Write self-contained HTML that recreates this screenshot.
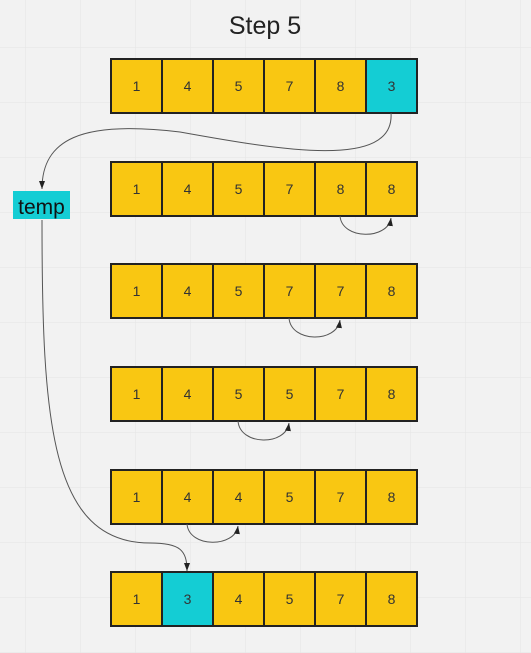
<!DOCTYPE html>
<html><head><style>
body{margin:0;background:#f2f2f2;}
svg{display:block}
</style></head><body>
<svg width="531" height="653" xmlns="http://www.w3.org/2000/svg" font-family="Liberation Sans, sans-serif">
<defs>
<pattern id="g" width="55" height="55" patternUnits="userSpaceOnUse" x="25" y="47">
<path d="M0 0V55M0 0H55" stroke="#e4e4e4" stroke-width="1" fill="none"/>
</pattern>
<marker id="a" markerWidth="9" markerHeight="8" refX="8" refY="4" orient="auto" markerUnits="userSpaceOnUse">
<path d="M0 1L8 4L0 7Z" fill="#222"/>
</marker>
</defs>
<rect width="531" height="653" fill="url(#g)"/>
<text x="265" y="34" font-size="25" text-anchor="middle" fill="#222">Step 5</text>

<g stroke="#222" stroke-width="2" fill="#f9c712">
<rect x="111" y="59" width="51" height="54"/><rect x="162" y="59" width="51" height="54"/><rect x="213" y="59" width="51" height="54"/><rect x="264" y="59" width="51" height="54"/><rect x="315" y="59" width="51" height="54"/><rect x="366" y="59" width="51" height="54" fill="#14cdd4"/>
<rect x="111" y="162" width="51" height="54"/><rect x="162" y="162" width="51" height="54"/><rect x="213" y="162" width="51" height="54"/><rect x="264" y="162" width="51" height="54"/><rect x="315" y="162" width="51" height="54"/><rect x="366" y="162" width="51" height="54"/>
<rect x="111" y="264" width="51" height="54"/><rect x="162" y="264" width="51" height="54"/><rect x="213" y="264" width="51" height="54"/><rect x="264" y="264" width="51" height="54"/><rect x="315" y="264" width="51" height="54"/><rect x="366" y="264" width="51" height="54"/>
<rect x="111" y="367" width="51" height="54"/><rect x="162" y="367" width="51" height="54"/><rect x="213" y="367" width="51" height="54"/><rect x="264" y="367" width="51" height="54"/><rect x="315" y="367" width="51" height="54"/><rect x="366" y="367" width="51" height="54"/>
<rect x="111" y="470" width="51" height="54"/><rect x="162" y="470" width="51" height="54"/><rect x="213" y="470" width="51" height="54"/><rect x="264" y="470" width="51" height="54"/><rect x="315" y="470" width="51" height="54"/><rect x="366" y="470" width="51" height="54"/>
<rect x="111" y="572" width="51" height="54"/><rect x="162" y="572" width="51" height="54" fill="#14cdd4"/><rect x="213" y="572" width="51" height="54"/><rect x="264" y="572" width="51" height="54"/><rect x="315" y="572" width="51" height="54"/><rect x="366" y="572" width="51" height="54"/>
</g>
<g font-size="14" fill="#333" text-anchor="middle">
<text x="136.5" y="91">1</text><text x="187.5" y="91">4</text><text x="238.5" y="91">5</text><text x="289.5" y="91">7</text><text x="340.5" y="91">8</text><text x="391.5" y="91">3</text>
<text x="136.5" y="194">1</text><text x="187.5" y="194">4</text><text x="238.5" y="194">5</text><text x="289.5" y="194">7</text><text x="340.5" y="194">8</text><text x="391.5" y="194">8</text>
<text x="136.5" y="296">1</text><text x="187.5" y="296">4</text><text x="238.5" y="296">5</text><text x="289.5" y="296">7</text><text x="340.5" y="296">7</text><text x="391.5" y="296">8</text>
<text x="136.5" y="399">1</text><text x="187.5" y="399">4</text><text x="238.5" y="399">5</text><text x="289.5" y="399">5</text><text x="340.5" y="399">7</text><text x="391.5" y="399">8</text>
<text x="136.5" y="502">1</text><text x="187.5" y="502">4</text><text x="238.5" y="502">4</text><text x="289.5" y="502">5</text><text x="340.5" y="502">7</text><text x="391.5" y="502">8</text>
<text x="136.5" y="604">1</text><text x="187.5" y="604">3</text><text x="238.5" y="604">4</text><text x="289.5" y="604">5</text><text x="340.5" y="604">7</text><text x="391.5" y="604">8</text>
</g>
<g fill="none" stroke="#555" stroke-width="1">
<path d="M391 113 C395 170 280 150 180 132 C80 120 42 140 42 189" marker-end="url(#a)"/>
<path d="M42 220 C42 420 50 543 150 543 C180 543 187 550 187 571" marker-end="url(#a)"/>
<path d="M340 216 C342 240 388 240 391 218" marker-end="url(#a)"/>
<path d="M289 318 C291 343 337 343 340 320" marker-end="url(#a)"/>
<path d="M238 421 C240 446 286 446 289 423" marker-end="url(#a)"/>
<path d="M187 524 C189 548 235 548 238 526" marker-end="url(#a)"/>
</g>
<rect x="13" y="191" width="57" height="28" fill="#14cdd4"/>
<text x="41.5" y="214" font-size="21" text-anchor="middle" fill="#111">temp</text>
</svg>
</body></html>
